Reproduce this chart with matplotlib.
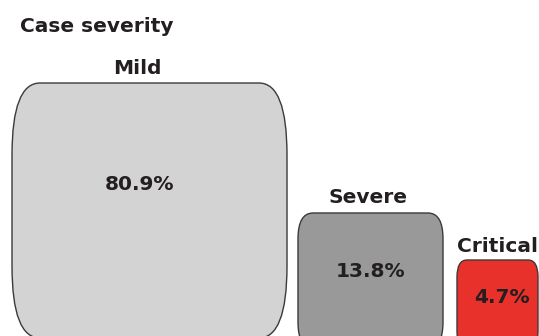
import matplotlib.pyplot as plt
from matplotlib.patches import FancyBboxPatch

categories = ['Mild', 'Severe', 'Critical']
shares = [80.9, 13.8, 4.7]
fill_colors = ['#d3d3d3', '#999999', '#e8312b']

# box layout in pixel units: left, top, width, height, corner rx, corner ry
layout = [
    (12, 83, 275, 255, 28, 72),
    (298, 213, 145, 135, 15, 26),
    (457, 260, 81, 88, 10, 17),
]
label_pos = [(137, 74), (368, 203), (498, 252)]
pct_pos = [(140, 190), (370, 277), (502, 303)]

fig = plt.figure(figsize=(5.39, 3.36), dpi=100)
ax = fig.add_axes([0, 0, 1, 1])
ax.set_xlim(0, 539)
ax.set_ylim(336, 0)
ax.axis('off')

font = 'DejaVu Sans'
txt = '#231f20'

for name, val, col, (x, y, w, h, rx, ry), (lx, ly), (px, py) in zip(
        categories, shares, fill_colors, layout, label_pos, pct_pos):
    box = FancyBboxPatch((x + rx, y + ry), w - 2 * rx, h - 2 * ry,
                         boxstyle='round,pad=%g,rounding_size=%g' % (rx, rx),
                         mutation_aspect=ry / rx,
                         facecolor=col, edgecolor='#3a3a3a', linewidth=1.0)
    ax.add_patch(box)
    ax.text(lx, ly, name, ha='center', va='baseline',
            fontsize=14.5, fontweight='bold', color=txt, family=font)
    ax.text(px, py, '%.1f%%' % val, ha='center', va='baseline',
            fontsize=14.5, fontweight='bold', color=txt, family=font)

ax.text(20, 32, 'Case severity', ha='left', va='baseline',
        fontsize=14.5, fontweight='bold', color=txt, family=font)

fig.savefig('out.png', dpi=100)
